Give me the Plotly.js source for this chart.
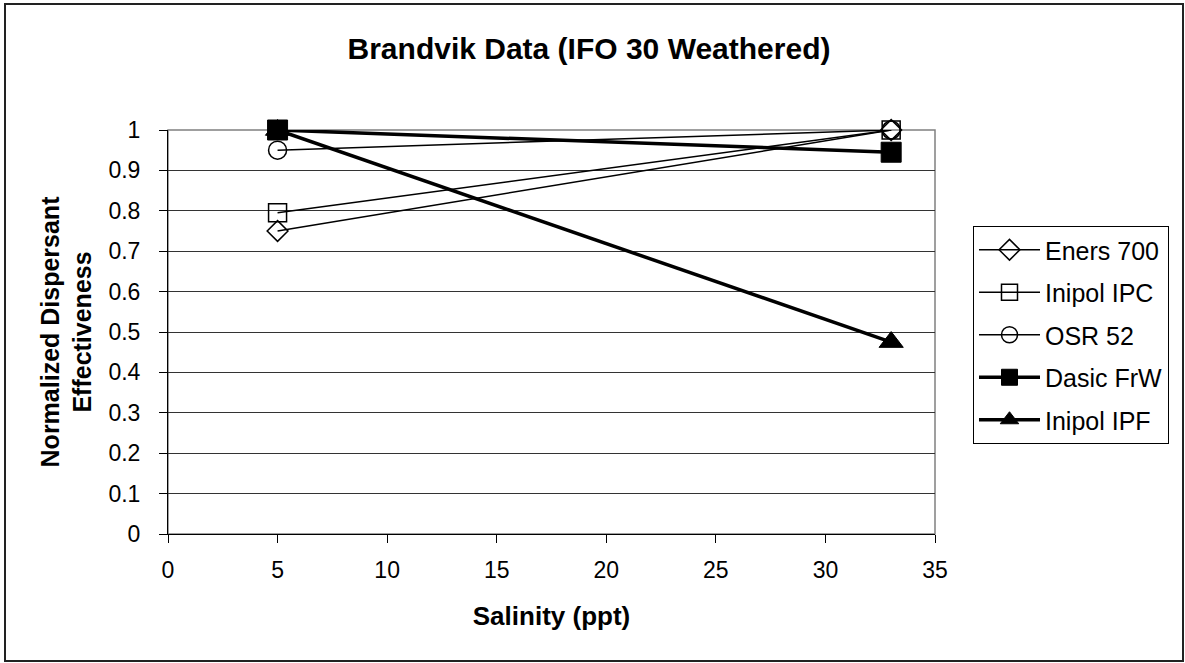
<!DOCTYPE html>
<html>
<head>
<meta charset="utf-8">
<script src="https://cdn.plot.ly/plotly-3.0.1.min.js"></script>
<style>
  html, body { margin: 0; padding: 0; background: #fff; }
  #chart { width: 1185px; height: 663px; }
</style>
</head>
<body>
<div id="chart"></div>
<script>
// Data
const salinity = [5, 33];
const seriesNames = ["Eners 700", "Inipol IPC", "OSR 52", "Dasic FrW", "Inipol IPF"];
const eners700 = [0.75, 1.0];
const inipolIPC = [0.795, 1.0];
const osr52 = [0.95, 1.0];
const dasicFrW = [1.0, 0.945];
const inipolIPF = [1.0, 0.475];
const yTickVals = [0, 0.1, 0.2, 0.3, 0.4, 0.5, 0.6, 0.7, 0.8, 0.9, 1];
const yTickText = ["0", "0.1", "0.2", "0.3", "0.4", "0.5", "0.6", "0.7", "0.8", "0.9", "1"];
const xTickVals = [0, 5, 10, 15, 20, 25, 30, 35];

const FONT = "Liberation Sans, Arial, sans-serif";

const styles = [
  { sym: "diamond-open", size: 16, lw: 1.5, mlw: 1.5 },
  { sym: "square-open", size: 18, lw: 1.5, mlw: 1.5 },
  { sym: "circle-open", size: 18, lw: 1.5, mlw: 1.5 },
  { sym: "square", size: 20, lw: 3.5, mlw: 1 },
  { sym: "triangle-up", size: 21, lw: 3.5, mlw: 1 }
];
const allY = [eners700, inipolIPC, osr52, dasicFrW, inipolIPF];

const traces = allY.map((yv, i) => ({
  type: "scatter",
  mode: "lines+markers",
  name: seriesNames[i],
  legendgroup: "g" + i,
  x: salinity,
  y: yv,
  line: { color: "#000", width: styles[i].lw },
  marker: {
    symbol: styles[i].sym,
    size: styles[i].size,
    color: "#000",
    line: { color: "#000", width: styles[i].mlw }
  },
  cliponaxis: false
}));

const L = 168, R = 935, T = 130, B = 534;
const pw = R - L, ph = B - T;
const px = v => (v - L) / pw;
const py = v => (B - v) / ph;

const layout = {
  width: 1185,
  height: 663,
  margin: { l: L, r: 1185 - R, t: T, b: 663 - B, pad: 0 },
  paper_bgcolor: "#fff",
  plot_bgcolor: "#fff",
  font: { family: FONT, color: "#000", size: 23 },
  title: {
    text: "<b>Brandvik Data (IFO 30 Weathered)</b>",
    font: { family: FONT, size: 30, color: "#000" },
    x: 589 / 1185, xanchor: "center",
    y: 1 - 48 / 663, yanchor: "middle",
    xref: "container", yref: "container"
  },
  xaxis: {
    range: [0, 35],
    tickvals: xTickVals,
    ticktext: xTickVals.map(String),
    ticks: "outside", ticklen: 8, tickwidth: 1, tickcolor: "#000",
    ticklabelstandoff: 7,
    showline: true, linecolor: "#000", linewidth: 1,
    showgrid: false, zeroline: false,
    tickfont: { family: FONT, size: 23, color: "#000" },
    title: { text: "<b>Salinity (ppt)</b>", font: { family: FONT, size: 26, color: "#000" }, standoff: 25 }
  },
  yaxis: {
    range: [0, 1],
    tickvals: yTickVals,
    ticktext: yTickText,
    ticks: "outside", ticklen: 8, tickwidth: 1, tickcolor: "#000",
    ticklabelstandoff: 14,
    showline: true, linecolor: "#000", linewidth: 1,
    showgrid: true, gridcolor: "#333", gridwidth: 1,
    zeroline: false,
    tickfont: { family: FONT, size: 23, color: "#000" },
    title: { text: "<b>Normalized Dispersant<br>Effectiveness</b>", font: { family: FONT, size: 25, color: "#000" }, standoff: 9 }
  },
  showlegend: true,
  legend: {
    x: px(973), xanchor: "left",
    y: py(226), yanchor: "top",
    bgcolor: "#fff",
    bordercolor: "#000",
    borderwidth: 1,
    font: { family: FONT, size: 25, color: "#000" },
    traceorder: "grouped",
    tracegroupgap: 7,
    itemwidth: 61
  },
  shapes: [
    { type: "rect", xref: "paper", yref: "paper", x0: 0, x1: 1, y0: 0, y1: 1,
      line: { color: "#808080", width: 1.5 }, layer: "between" },
    { type: "rect", xref: "paper", yref: "paper",
      x0: px(5), x1: px(1183), y0: py(661), y1: py(4),
      line: { color: "#222", width: 2 }, layer: "above" }
  ]
};

Plotly.newPlot("chart", traces, layout, { displayModeBar: false, staticPlot: true });
</script>
</body>
</html>
